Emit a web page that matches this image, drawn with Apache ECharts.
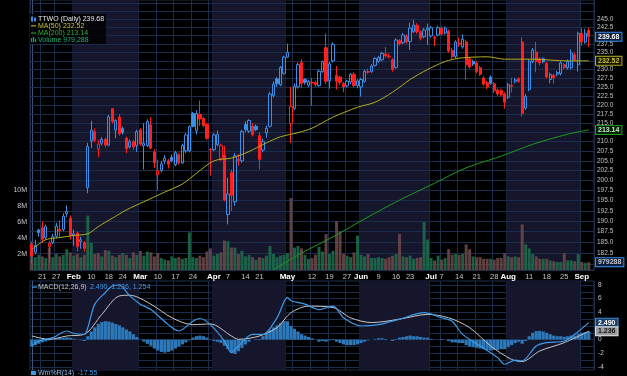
<!DOCTYPE html>
<html>
<head>
<meta charset="utf-8">
<title>TTWO Daily</title>
<script src="https://cdn.jsdelivr.net/npm/echarts@6/dist/echarts.min.js"></script>
<style>
  html, body { margin: 0; padding: 0; background: #000; }
  #chart { width: 627px; height: 376px; }
</style>
</head>
<body>
<div id="chart"></div>
<script>
// trading days, Jan 15 - Sep 5 2025 (last slot is empty)
const months = ['Jan', 'Feb', 'Mar', 'Apr', 'May', 'Jun', 'Jul', 'Aug', 'Sep'];
const monthDays = [
  [15, 16, 17, 21, 22, 23, 24, 27, 28, 29, 30, 31],
  [3, 4, 5, 6, 7, 10, 11, 12, 13, 14, 18, 19, 20, 21, 24, 25, 26, 27, 28],
  [3, 4, 5, 6, 7, 10, 11, 12, 13, 14, 17, 18, 19, 20, 21, 24, 25, 26, 27, 28, 31],
  [1, 2, 3, 4, 7, 8, 9, 10, 11, 14, 15, 16, 17, 21, 22, 23, 24, 25, 28, 29, 30],
  [1, 2, 5, 6, 7, 8, 9, 12, 13, 14, 15, 16, 19, 20, 21, 22, 23, 27, 28, 29, 30],
  [2, 3, 4, 5, 6, 9, 10, 11, 12, 13, 16, 17, 18, 20, 23, 24, 25, 26, 27, 30],
  [1, 2, 3, 7, 8, 9, 10, 11, 14, 15, 16, 17, 18, 21, 22, 23, 24, 25, 28, 29, 30, 31],
  [1, 4, 5, 6, 7, 8, 11, 12, 13, 14, 15, 18, 19, 20, 21, 22, 25, 26, 27, 28, 29],
  [2, 3, 4, 5]
];
const labelDays = ['Jan 21', 'Jan 27', 'Feb 3', 'Feb 10', 'Feb 18', 'Feb 24', 'Mar 3', 'Mar 10', 'Mar 17', 'Mar 24',
  'Apr 1', 'Apr 7', 'Apr 14', 'Apr 21', 'May 1', 'May 12', 'May 19', 'May 27', 'Jun 2', 'Jun 9', 'Jun 16', 'Jun 23',
  'Jul 1', 'Jul 7', 'Jul 14', 'Jul 21', 'Jul 28', 'Aug 1', 'Aug 11', 'Aug 18', 'Aug 25', 'Sep 2'];
const extraGridDays = ['Mar 31', 'Apr 28', 'May 5', 'Jun 30', 'Aug 4'];
const shadedMonths = ['Feb', 'Apr', 'Jun', 'Aug'];

const open = [
  184.6, 182.7, 187.9, 188.4, 186.1, 184.0, 184.9, 186.4, 188.0, 188.0,
  191.8, 190.7, 186.6, 187.2, 185.2, 184.9, 198.2, 210.2, 212.7, 208.0,
  209.6, 210.6, 209.1, 218.9, 213.1, 216.6, 213.5, 210.9, 208.6, 210.0,
  209.0, 213.2, 208.9, 209.0, 214.5, 207.3, 201.4, 202.5, 205.0, 205.0,
  205.9, 204.0, 206.6, 204.5, 207.6, 207.6, 217.6, 212.9, 217.4, 216.2,
  214.6, 208.0, 207.9, 209.2, 205.6, 206.5, 191.6, 202.0, 194.7, 205.4,
  205.0, 214.6, 212.8, 214.1, 214.1, 211.6, 207.8, 212.3, 214.1, 222.6,
  227.3, 225.6, 228.9, 233.6, 214.9, 219.0, 225.0, 232.0, 227.1, 225.5,
  226.3, 226.2, 225.4, 229.4, 236.4, 226.7, 232.5, 228.3, 227.8, 225.9,
  225.3, 226.4, 228.6, 225.4, 225.0, 226.6, 229.2, 229.4, 231.2, 232.3,
  232.8, 234.5, 233.7, 232.8, 230.6, 238.5, 237.9, 239.9, 238.2, 241.2,
  243.2, 241.2, 239.7, 241.8, 239.9, 239.5, 240.2, 242.3, 240.8, 241.4,
  235.6, 233.8, 237.8, 236.6, 238.1, 233.1, 232.3, 231.9, 230.5, 227.5,
  226.2, 227.8, 225.9, 224.1, 224.0, 223.0, 222.1, 225.2, 226.6, 227.3,
  238.1, 219.1, 224.3, 232.3, 235.1, 233.1, 233.1, 231.7, 227.1, 228.3,
  228.6, 228.8, 231.4, 230.5, 230.5, 234.3, 231.4, 240.7, 238.1, 241.6
];
const high = [
  185.2, 185.6, 188.2, 189.9, 189.2, 185.4, 187.0, 189.6, 190.2, 191.9,
  193.8, 191.4, 188.0, 187.5, 186.3, 185.3, 209.7, 215.6, 213.5, 210.5,
  211.2, 211.0, 217.2, 219.1, 216.0, 217.4, 214.0, 211.3, 210.6, 210.5,
  213.2, 213.6, 214.9, 216.0, 216.6, 208.0, 205.3, 205.0, 206.5, 205.5,
  206.6, 207.6, 207.0, 209.5, 212.3, 214.4, 218.0, 218.5, 221.2, 216.7,
  215.0, 208.3, 212.3, 213.0, 209.5, 208.9, 200.7, 202.8, 207.0, 206.8,
  213.2, 215.5, 216.0, 215.0, 214.6, 212.5, 210.8, 214.3, 223.6, 226.6,
  227.8, 231.0, 234.0, 237.6, 225.0, 226.0, 232.0, 233.0, 227.5, 227.0,
  227.6, 226.8, 230.0, 232.6, 240.7, 232.2, 238.0, 231.0, 228.2, 226.4,
  227.0, 229.0, 229.2, 227.2, 227.6, 230.0, 230.2, 231.5, 233.6, 234.0,
  235.2, 236.6, 234.7, 233.3, 239.2, 239.0, 240.8, 240.4, 244.0, 244.8,
  243.8, 241.6, 242.3, 243.7, 243.0, 240.0, 243.0, 242.8, 242.8, 241.9,
  236.3, 238.6, 239.5, 240.4, 238.8, 233.6, 232.8, 232.5, 231.0, 228.1,
  226.7, 228.3, 226.4, 224.6, 224.5, 223.5, 226.1, 227.6, 227.6, 227.8,
  239.5, 223.0, 233.0, 236.3, 238.1, 233.6, 233.6, 232.2, 229.1, 228.8,
  229.6, 232.4, 231.9, 232.9, 235.9, 235.0, 241.2, 242.3, 242.0, 242.4
];
const low = [
  180.0, 182.2, 186.3, 184.9, 185.6, 180.4, 184.6, 186.0, 186.1, 187.6,
  191.0, 185.7, 184.2, 182.9, 183.5, 182.8, 196.8, 208.3, 209.8, 206.0,
  209.0, 208.5, 208.8, 214.8, 210.9, 211.6, 211.9, 207.0, 208.2, 207.8,
  207.3, 208.8, 202.8, 208.6, 208.0, 203.2, 197.5, 202.0, 204.2, 203.0,
  204.6, 203.6, 204.0, 204.2, 207.0, 207.2, 213.8, 211.9, 214.2, 213.9,
  210.5, 201.2, 207.5, 208.8, 205.0, 194.8, 189.2, 192.5, 193.7, 203.7,
  204.5, 212.5, 212.3, 211.4, 212.8, 202.8, 207.2, 211.0, 213.8, 222.0,
  225.0, 225.2, 228.5, 233.3, 209.6, 218.5, 224.5, 224.8, 225.6, 225.0,
  219.7, 225.0, 225.0, 229.0, 225.8, 224.5, 232.0, 224.3, 225.5, 223.5,
  224.8, 225.8, 224.9, 224.6, 222.3, 226.2, 228.8, 229.0, 230.8, 231.9,
  232.4, 233.4, 233.2, 229.4, 230.2, 237.0, 237.4, 237.6, 235.7, 240.8,
  240.6, 238.6, 239.2, 237.2, 239.4, 236.8, 239.8, 240.0, 240.3, 234.9,
  233.1, 233.3, 236.6, 236.1, 227.1, 230.2, 231.0, 228.9, 228.1, 225.3,
  224.4, 225.6, 223.3, 222.4, 222.3, 218.9, 221.6, 223.4, 226.0, 226.1,
  216.8, 218.6, 223.8, 231.8, 229.2, 231.2, 231.8, 227.3, 226.0, 225.9,
  228.0, 228.3, 230.0, 230.0, 230.0, 232.3, 229.4, 236.9, 237.6, 236.6
];
const close = [
  181.8, 184.3, 187.3, 185.7, 188.7, 184.8, 186.3, 188.8, 187.7, 191.2,
  192.3, 186.6, 187.0, 184.0, 185.6, 183.6, 208.7, 213.0, 210.4, 209.4,
  210.6, 209.1, 216.7, 215.4, 215.7, 212.1, 212.4, 208.2, 210.0, 208.6,
  212.7, 209.4, 209.6, 215.4, 208.3, 204.5, 202.5, 204.2, 205.7, 204.1,
  205.0, 207.1, 204.5, 209.0, 211.8, 214.0, 214.1, 217.6, 216.1, 214.3,
  210.9, 207.8, 211.8, 211.9, 209.0, 195.1, 196.6, 196.3, 206.3, 205.0,
  212.7, 213.2, 215.7, 211.9, 213.2, 205.4, 210.0, 213.6, 223.0, 225.8,
  225.9, 230.6, 233.6, 235.0, 219.5, 225.2, 231.4, 226.0, 226.3, 226.5,
  226.1, 225.7, 229.5, 232.3, 226.6, 231.6, 237.4, 226.6, 226.3, 225.0,
  226.6, 228.6, 225.4, 226.7, 227.1, 229.5, 229.4, 231.0, 233.2, 233.5,
  234.7, 234.0, 233.9, 230.0, 238.7, 237.5, 240.2, 238.2, 242.3, 243.2,
  241.2, 239.2, 241.7, 242.3, 242.4, 239.2, 242.4, 240.5, 242.3, 235.4,
  233.7, 238.1, 237.5, 238.9, 231.4, 230.7, 231.6, 229.4, 228.6, 225.8,
  225.0, 226.0, 223.9, 223.0, 222.8, 220.7, 225.6, 225.4, 227.0, 226.6,
  217.6, 222.3, 232.3, 235.7, 232.3, 231.9, 232.2, 227.8, 228.6, 227.6,
  229.1, 231.9, 230.5, 232.3, 234.8, 232.8, 240.7, 238.1, 240.7, 239.68
];
// volume in millions of shares
const volume = [
  1.3, 1.6, 1.9, 1.7, 1.5, 2.8, 1.6, 2.0, 1.7, 1.9,
  2.6, 2.2, 1.8, 2.0, 1.6, 1.9, 6.8, 3.4, 2.0, 2.1,
  1.7, 2.5, 2.4, 1.8, 1.6, 1.9, 2.1, 1.9, 1.5, 2.2,
  1.9, 2.4, 1.8, 2.3, 2.2, 1.7, 2.1, 1.5, 1.3, 1.2,
  1.7, 1.5, 1.6, 1.4, 1.5, 4.7, 1.6, 1.5, 1.8, 1.6,
  2.3, 2.7, 1.8, 2.0, 2.2, 3.7, 3.6, 2.8, 2.8, 2.0,
  2.4, 1.7, 1.9, 1.6, 1.3, 1.6, 1.5, 1.8, 3.0, 2.0,
  1.6, 1.8, 1.9, 2.1, 9.0, 2.8, 3.0, 2.7, 1.9, 1.4,
  1.5, 1.9, 2.9, 2.3, 4.5, 2.0, 2.4, 6.1, 4.8, 2.0,
  1.8, 1.6, 2.2, 4.3, 1.9, 1.7, 2.0, 1.5, 1.5, 1.6,
  1.5, 1.4, 1.6, 1.8, 2.0, 4.5, 1.7, 1.6, 1.8, 1.4,
  1.5, 1.6, 6.0, 3.8, 1.5, 1.2, 1.8, 1.3, 1.5, 2.6,
  1.9, 2.0, 1.9, 2.0, 3.2, 2.6, 1.7, 1.6, 1.6, 1.4,
  1.4, 1.4, 1.3, 1.5, 1.5, 2.1, 1.7, 1.6, 1.7, 1.6,
  5.7, 3.2, 2.7, 2.0, 1.7, 1.4, 1.4, 1.4, 1.2, 1.1,
  1.0, 1.0, 2.1, 1.2, 1.2, 1.1, 2.0, 1.0, 0.9, 0.979288
];
// moving averages read at sparse trading days (index into the day list)
const ma50Day = [0, 4, 8, 12, 16, 19, 23, 27, 32, 38, 43, 47, 52, 57, 62, 67, 71, 76, 80, 86, 93, 98, 103, 108, 113, 118, 122, 130, 135, 143, 153, 159];
const ma50Val = [183.3, 185.6, 186.1, 186.6, 187.0, 188.7, 190.7, 192.7, 194.7, 197.1, 199.1, 201.8, 205.0, 205.7, 207.4, 209.7, 211.3, 212.4, 213.6, 216.6, 219.3, 220.7, 223.5, 227.1, 230.0, 232.3, 233.3, 233.7, 233.0, 233.0, 232.5, 232.52];
const ma200Day = [69, 77, 86, 96, 105, 115, 124, 134, 143, 153, 159];
const ma200Val = [178.7, 182.5, 186.3, 191.0, 195.1, 199.3, 203.2, 206.2, 209.3, 212.0, 213.14];
// MACD(12,26,9)
const macdDay = [0, 2, 6, 10, 12, 15, 16, 18, 21, 23, 25, 28, 31, 34, 39, 42, 46, 48, 51, 55, 57, 59, 63, 66, 70, 73, 74, 78, 82, 86, 89, 94, 99, 105, 112, 117, 120, 123, 128, 133, 135, 138, 140, 144, 147, 152, 155, 159];
const macdVal = [-0.93, -0.2, 0.3, 1.27, 0.9, 0.78, 1.76, 5.2, 6.9, 7.85, 8.0, 6.4, 5.2, 4.4, 2.2, 1.27, 2.7, 3.1, 2.2, -0.2, -1.9, -0.93, 0.78, 0.78, 3.2, 6.2, 5.7, 5.2, 4.4, 4.9, 3.2, 2.0, 2.2, 3.0, 3.95, 3.2, 2.7, 0.78, -0.93, -2.6, -3.6, -3.0, -3.1, -0.93, -0.44, -0.2, 0.78, 2.49];
const signalDay = [0, 5, 10, 15, 20, 25, 28, 34, 40, 46, 51, 57, 59, 65, 70, 74, 79, 86, 91, 97, 105, 113, 119, 125, 131, 137, 140, 145, 152, 159];
const signalVal = [0.54, 0.05, 0.54, 0.78, 3.7, 6.4, 6.5, 5.2, 3.2, 2.2, 2.3, 0.54, 0.05, 0.54, 1.76, 3.95, 4.9, 4.7, 3.2, 2.5, 3.0, 3.7, 3.2, 1.76, -0.93, -2.9, -3.2, -1.66, -0.44, 1.236];
const histVal = [
  -1.0, -0.8, -0.6, -0.4, -0.25, -0.1, 0.05, 0.15, 0.25, 0.3,
  0.35, 0.3, 0.15, 0.05, -0.1, -0.2, 0.5, 1.2, 1.8, 2.3,
  2.6, 2.7, 2.65, 2.5, 2.3, 2.1, 1.8, 1.5, 1.2, 0.8,
  0.4, 0.0, -0.3, -0.6, -0.9, -1.3, -1.6, -1.8, -1.9, -1.8,
  -1.6, -1.3, -1.0, -0.7, -0.4, -0.1, 0.3, 0.5, 0.6, 0.5,
  0.3, 0.0, -0.2, -0.3, -0.5, -0.9, -1.4, -1.9, -2.1, -1.7,
  -1.2, -0.7, -0.3, 0.0, 0.1, 0.1, 0.5, 0.9, 1.4, 1.8,
  2.1, 2.4, 2.7, 2.7, 2.0, 1.6, 1.2, 0.8, 0.6, 0.4,
  0.2, 0.0, -0.3, -0.2, -0.3, -0.1, 0.1, -0.3, -0.5, -0.7,
  -0.8, -0.8, -0.8, -0.7, -0.5, -0.3, -0.1, 0.0, 0.1, 0.2,
  0.2, 0.1, 0.0, -0.2, 0.1, 0.3, 0.4, 0.5, 0.6, 0.5,
  0.5, 0.4, 0.3, 0.3, 0.1, 0.0, 0.0, 0.1, 0.0, -0.2,
  -0.4, -0.4, -0.5, -0.5, -0.8, -1.0, -1.1, -1.2, -1.3, -1.4,
  -1.5, -1.6, -1.5, -1.5, -1.4, -1.4, -1.1, -0.8, -0.5, -0.3,
  -0.6, -0.2, 0.5, 1.0, 1.25, 1.3, 1.2, 1.0, 0.8, 0.6,
  0.5, 0.5, 0.4, 0.5, 0.6, 0.6, 0.9, 1.0, 1.1, 1.254
];
const priceTicks = [180, 182.5, 185, 187.5, 190, 192.5, 195, 197.5, 200, 202.5, 205, 207.5, 210, 212.5, 215,
  217.5, 220, 222.5, 225, 227.5, 230, 232.5, 235, 237.5, 240, 242.5, 245, 247.5, 250];
const macdGridTicks = [-4, -3, -2, -1, 0, 1, 2, 3, 4, 5, 6, 7, 8];
const macdLabelTicks = [-4, -2, 0, 2, 4, 6, 8];

const UP = '#3b8ee6', DOWN = '#ff1f1f', GRID = '#1b2d4a', BAND = '#15152c', EDGE = '#3a5578';
const FONT = 'Liberation Sans, Arial, sans-serif';

const cats = [];
monthDays.forEach((days, m) => days.forEach(d => cats.push(months[m] + ' ' + d)));
const N = cats.length;
const firstOfMonth = new Set(monthDays.map((days, m) => months[m] + ' ' + days[0]));
const labelSet = new Set(labelDays);
const gridSet = new Set(labelDays.concat(extraGridDays));

const bands = shadedMonths.map(mo => {
  const idx = [];
  cats.forEach((c, i) => { if (c.indexOf(mo + ' ') === 0) idx.push(i); });
  return [{ xAxis: idx[0] - 0.5 }, { xAxis: idx[idx.length - 1] + 0.5 }];
});

const candleData = close.map((c, i) => {
  const prev = i > 0 ? close[i - 1] : open[i];
  const col = c >= prev ? UP : DOWN;
  const fill = c > open[i] ? 'rgba(0,0,0,0)' : col;
  return {
    value: [open[i], c, low[i], high[i]],
    itemStyle: { color: fill, color0: fill, borderColor: col, borderColor0: col, borderColorDoji: col }
  };
});
const volData = volume.map((v, i) => {
  const prev = i > 0 ? close[i - 1] : open[i];
  return { value: v, itemStyle: { color: close[i] >= prev ? 'rgba(30,112,78,0.85)' : 'rgba(112,74,74,0.85)' } };
});
const pairs = (days, vals) => days.map((d, k) => [d, vals[k]]);

const box = (txt, col, bg, border) => ({
  show: true, formatter: txt, color: col, backgroundColor: bg, borderColor: border, borderWidth: 1,
  padding: [1, 2, 0, 2], fontSize: 7, fontWeight: 'bold', fontFamily: FONT
});
const vSplit = { show: true, interval: (i, v) => gridSet.has(v), lineStyle: { color: GRID, width: 1 } };
const hiddenLine = { color: 'rgba(0,0,0,0)', width: 1, type: 'solid' };

var chart = echarts.init(document.getElementById('chart'), null, { renderer: 'canvas' });
var option = {
  backgroundColor: '#000',
  animation: false,
  textStyle: { fontFamily: FONT },
  grid: [
    { left: 30, right: 33, top: 0, height: 270, show: true, borderColor: GRID, borderWidth: 1 },
    { left: 30, right: 33, top: 281, height: 89, show: true, borderColor: GRID, borderWidth: 1 }
  ],
  xAxis: [
    {
      type: 'category', gridIndex: 0, data: cats,
      axisLine: { lineStyle: { color: GRID } }, axisTick: { show: false },
      axisLabel: {
        interval: (i, v) => labelSet.has(v), margin: 3,
        formatter: v => firstOfMonth.has(v) ? '{m|' + v.split(' ')[0] + '}' : '{d|' + v.split(' ')[1] + '}',
        rich: {
          m: { color: '#ffffff', fontWeight: 'bold', fontSize: 8, fontFamily: FONT },
          d: { color: '#c4c4c4', fontSize: 7.5, fontFamily: FONT }
        }
      },
      splitLine: vSplit
    },
    { type: 'value', gridIndex: 0, min: -0.5, max: N - 0.5, show: false },
    {
      type: 'category', gridIndex: 1, data: cats,
      axisLine: { show: false }, axisTick: { show: false }, axisLabel: { show: false },
      splitLine: vSplit
    },
    { type: 'value', gridIndex: 1, min: -0.5, max: N - 0.5, show: false }
  ],
  yAxis: [
    {
      type: 'log', gridIndex: 0, position: 'right', min: 178.66, max: 251.03,
      axisLine: { show: true, lineStyle: { color: EDGE } }, axisTick: { show: false },
      axisLabel: { show: false }, splitLine: { show: false }
    },
    {
      type: 'value', gridIndex: 0, position: 'left', min: 0, max: 33.75, interval: 2,
      axisLine: { show: true, lineStyle: { color: GRID } }, axisTick: { show: false }, splitLine: { show: false },
      axisLabel: { margin: 3, fontSize: 7, color: '#c8c8c8', formatter: v => (v > 0 && v <= 10 ? v + 'M' : '') }
    },
    {
      type: 'value', gridIndex: 1, position: 'right', min: -4.44, max: 8.585,
      axisLine: { show: true, lineStyle: { color: EDGE } },
      axisTick: { show: false, customValues: macdGridTicks },
      axisLabel: { customValues: macdLabelTicks, fontSize: 6.5, color: '#c8c8c8', margin: 4 },
      splitLine: { show: true, lineStyle: { color: GRID } }
    }
  ],
  series: [
    {
      name: 'bands', type: 'line', xAxisIndex: 1, yAxisIndex: 0, data: [], silent: true,
      markArea: { silent: true, z: 0, itemStyle: { color: BAND }, data: bands }
    },
    {
      name: 'priceGrid', type: 'line', xAxisIndex: 1, yAxisIndex: 0, data: [], clip: false, silent: true,
      markLine: {
        silent: true, z: 1, symbol: ['none', 'none'], animation: false,
        lineStyle: { color: GRID, width: 1, type: 'solid' },
        label: { position: 'end', distance: 3, color: '#c0c0c0', fontSize: 6.5, fontFamily: FONT, formatter: p => p.value.toFixed(1) },
        emphasis: { disabled: true },
        data: priceTicks.map(v => ({ yAxis: v, label: { show: v <= 245 } }))
      }
    },
    { name: 'Volume', type: 'bar', xAxisIndex: 0, yAxisIndex: 1, z: 2, barCategoryGap: '15%', data: volData },
    { name: 'TTWO', type: 'candlestick', xAxisIndex: 0, yAxisIndex: 0, z: 3, barWidth: '78%', data: candleData },
    {
      name: 'MA(50)', type: 'line', xAxisIndex: 0, yAxisIndex: 0, z: 4, symbol: 'none', smooth: 0.3,
      lineStyle: { color: '#b2ad20', width: 1 }, data: pairs(ma50Day, ma50Val)
    },
    {
      name: 'MA(200)', type: 'line', xAxisIndex: 0, yAxisIndex: 0, z: 4, symbol: 'none', smooth: 0.3,
      lineStyle: { color: '#1f9a1f', width: 1 }, data: pairs(ma200Day, ma200Val)
    },
    {
      name: 'lastPrice', type: 'line', xAxisIndex: 1, yAxisIndex: 0, data: [], clip: false, silent: true,
      markLine: {
        silent: true, z: 6, symbol: ['none', 'none'], animation: false,
        lineStyle: hiddenLine, label: { position: 'end', distance: 2 }, emphasis: { disabled: true },
        data: [
          { yAxis: 239.68, label: box('239.68', '#ffffff', '#0c1f3d', UP) },
          { yAxis: 232.52, label: box('232.52', '#c9c23a', '#151500', '#b2ad20') },
          { yAxis: 213.14, label: box('213.14', '#cfe8cf', '#002000', '#1f9a1f') }
        ]
      }
    },
    {
      name: 'lastVol', type: 'line', xAxisIndex: 1, yAxisIndex: 1, data: [], clip: false, silent: true,
      markLine: {
        silent: true, z: 6, symbol: ['none', 'none'], animation: false,
        lineStyle: hiddenLine, label: { position: 'end', distance: 2 }, emphasis: { disabled: true },
        data: [{ yAxis: 0.979288, label: box('979288', '#c8c8c8', '#0c1f3d', UP) }]
      }
    },
    {
      name: 'macdBands', type: 'line', xAxisIndex: 3, yAxisIndex: 2, data: [], silent: true,
      markArea: { silent: true, z: 0, itemStyle: { color: BAND }, data: bands }
    },
    { name: 'Hist', type: 'bar', xAxisIndex: 2, yAxisIndex: 2, z: 2, barCategoryGap: '8%', itemStyle: { color: '#2d78b8' }, data: histVal },
    {
      name: 'Signal', type: 'line', xAxisIndex: 2, yAxisIndex: 2, z: 3, symbol: 'none', smooth: 0.3,
      lineStyle: { color: '#c8c8c8', width: 1 }, data: pairs(signalDay, signalVal)
    },
    {
      name: 'MACD', type: 'line', xAxisIndex: 2, yAxisIndex: 2, z: 4, symbol: 'none', smooth: 0.3,
      lineStyle: { color: '#3d9be9', width: 1.2 }, data: pairs(macdDay, macdVal)
    },
    {
      name: 'lastMacd', type: 'line', xAxisIndex: 3, yAxisIndex: 2, data: [], clip: false, silent: true,
      markLine: {
        silent: true, z: 6, symbol: ['none', 'none'], animation: false,
        lineStyle: hiddenLine, label: { position: 'end', distance: 2 }, emphasis: { disabled: true },
        data: [
          { yAxis: 2.49, label: box('2.490', '#ffffff', '#1d3f66', UP) },
          { yAxis: 1.236, label: box('1.236', '#111111', '#9c9c9c', '#dddddd') }
        ]
      }
    }
  ],
  graphic: [
    { type: 'rect', shape: { x: 30, y: 14, width: 76, height: 30 }, style: { fill: 'rgba(0,0,0,0.8)' }, z: 50 },
    { type: 'rect', shape: { x: 31, y: 16.5, width: 2, height: 5 }, style: { fill: UP }, z: 51 },
    { type: 'rect', shape: { x: 34, y: 17.5, width: 2, height: 4 }, style: { fill: UP }, z: 51 },
    { type: 'text', x: 38, y: 19, style: { text: 'TTWO (Daily) 239.68', fill: '#e6e6e6', font: '7px ' + FONT, verticalAlign: 'middle' }, z: 51 },
    { type: 'rect', shape: { x: 31, y: 25.2, width: 5, height: 1.2 }, style: { fill: '#b2ad20' }, z: 51 },
    { type: 'text', x: 38, y: 26, style: { text: 'MA(50) 232.52', fill: '#c9c23a', font: '7px ' + FONT, verticalAlign: 'middle' }, z: 51 },
    { type: 'rect', shape: { x: 31, y: 32.4, width: 5, height: 1.2 }, style: { fill: '#1f9a1f' }, z: 51 },
    { type: 'text', x: 38, y: 33, style: { text: 'MA(200) 213.14', fill: '#2fb02f', font: '7px ' + FONT, verticalAlign: 'middle' }, z: 51 },
    { type: 'rect', shape: { x: 31, y: 38, width: 1.2, height: 4 }, style: { fill: '#1f9a70' }, z: 51 },
    { type: 'rect', shape: { x: 33, y: 37, width: 1.2, height: 5 }, style: { fill: '#1f9a70' }, z: 51 },
    { type: 'rect', shape: { x: 35, y: 39, width: 1.2, height: 3 }, style: { fill: '#1f9a70' }, z: 51 },
    { type: 'text', x: 38, y: 40, style: { text: 'Volume 979,288', fill: '#1fae7a', font: '7px ' + FONT, verticalAlign: 'middle' }, z: 51 },
    { type: 'rect', shape: { x: 32, y: 286.5, width: 5, height: 1.2 }, style: { fill: '#3d9be9' }, z: 51 },
    {
      type: 'text', x: 38, y: 287, z: 51,
      style: {
        text: '{a|MACD(12,26,9)} {b|2.490, 1.236, 1.254}', verticalAlign: 'middle',
        rich: { a: { fill: '#c8c8c8', font: '7px ' + FONT }, b: { fill: '#3d9be9', font: '7px ' + FONT } }
      }
    },
    { type: 'rect', shape: { x: 31, y: 371, width: 5, height: 4 }, style: { fill: '#3d9be9' }, z: 51 },
    {
      type: 'text', x: 38, y: 373.5, z: 51,
      style: {
        text: '{a|Wm%R(14)} {b|-17.55}', verticalAlign: 'middle',
        rich: { a: { fill: '#8fb8e0', font: '7px ' + FONT }, b: { fill: '#3d9be9', font: '7px ' + FONT } }
      }
    }
  ]
};
chart.setOption(option);
</script>
</body>
</html>
